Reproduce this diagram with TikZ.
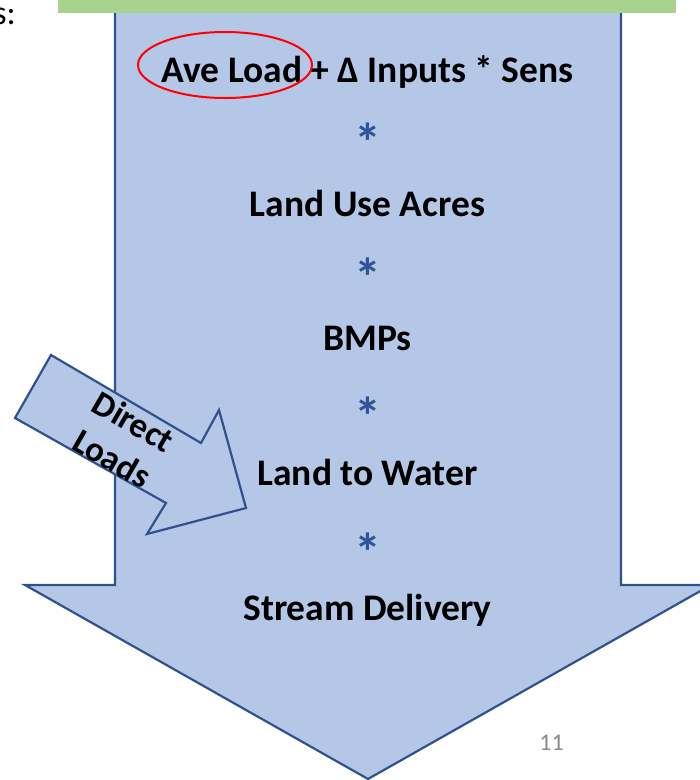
\documentclass[tikz,border=0pt]{standalone}
\usepackage{fontspec}
\setmainfont{Carlito}
\usetikzlibrary{shapes.geometric}
\definecolor{arrowfill}{HTML}{B4C7E7}
\definecolor{arrowline}{HTML}{2F528F}
\definecolor{barfill}{HTML}{A9D18E}
\definecolor{starblue}{HTML}{2F5597}
\definecolor{numgray}{HTML}{898989}
\tikzset{
	blockarrow/.style={fill=arrowfill, draw=arrowline, line width=2.2pt, line join=miter},
	steptext/.style={anchor=base, font=\bfseries\fontsize{37.5}{44}\selectfont},
	startext/.style={anchor=base, text=starblue, font=\bfseries\fontsize{54}{60}\selectfont},
}

\begin{document}
\begin{tikzpicture}[x=1pt, y=-1pt]
			%%%%% START %%%%%
			\clip (0, 0) rectangle (700, 780);
			
			\draw[blockarrow] (115, 2) -- (115, 585) -- (25, 585) -- (368, 779) -- (711, 585) -- (621, 585) -- (621, 2) -- cycle;
			\fill[barfill] (58, 0) rectangle (676, 13);
			
			\node[anchor=base east, inner sep=0, font=\fontsize{34}{40}\selectfont] (cutlabel) at (16, 24) {s:};
			
			\node[steptext] (avgload) at (367.5, 82) {Ave Load + Δ Inputs * Sens};
			\node[startext] (star1) at (367.5, 161) {*};
			\node[steptext] (landuse) at (367.5, 216) {Land Use Acres};
			\node[startext] (star2) at (367.5, 296) {*};
			\node[steptext] (bmps) at (367.5, 350) {BMPs};
			\node[startext] (star3) at (367.5, 435) {*};
			\node[steptext] (landwater) at (367.5, 485) {Land to Water};
			\node[startext] (star4) at (367.5, 571) {*};
			\node[steptext] (delivery) at (367.5, 620) {Stream Delivery};
			
			\node[ellipse, draw=red, line width=2pt, minimum width=174, minimum height=66] (circled) at (225, 65) {};
			
			\draw[blockarrow] (51, 355) -- (201, 443) -- (219, 410) -- (246, 508) -- (147, 534) -- (166, 503) -- (15, 418) -- cycle;
			\node[rotate=-30, align=center, inner sep=0, font=\bfseries\fontsize{35}{43}\selectfont] (directload) at (123, 440) {Direct\\Loads};
			
			\node[anchor=base, text=numgray, font=\fontsize{24}{28}\selectfont] (pagenum) at (551.5, 750) {11};
			%%%%% END %%%%%
\end{tikzpicture}
\end{document}
